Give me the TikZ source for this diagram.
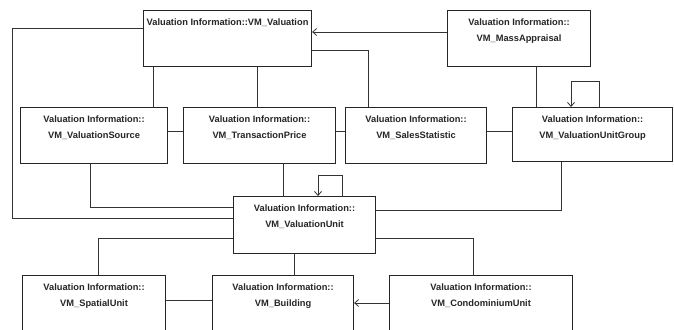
\documentclass[tikz,border=0pt]{standalone}
\usepackage{fontspec}
\setmainfont{Liberation Sans}
\usetikzlibrary{arrows.meta,calc}

% Draws a class box with its name set at the top: name, x, y, width, height, text
\newcommand\classbox[6]{%
  \node[clsbox, minimum width=#4pt, minimum height=#5pt] (#1) at (#2,#3) {};
  \node[clstext] (#1-t) at ([yshift=-9pt]#1.north) {#6};%
}

\begin{document}
\begin{tikzpicture}[
    x=1pt, y=-1pt,
    clsbox/.style={draw=black!85, line width=1.1pt, anchor=north west, inner sep=0pt, fill=white},
    clstext/.style={anchor=north, inner sep=0pt, align=center,
      font=\fontsize{9.3}{15.2}\selectfont\bfseries, text=black!85},
    link/.style={draw=black!80, line width=0.9pt},
    dep/.style={link, -{Straight Barb[length=4pt,width=7pt,line width=0.8pt]}},
  ]
  \useasboundingbox (0,0) rectangle (674,329);
  \clip (0,0) rectangle (674,329);

  % classes
  \classbox{val}{143}{10}{168}{56}{Valuation Information::VM\_Valuation}
  \classbox{mass}{447}{10}{143}{56}{Valuation Information::\\VM\_MassAppraisal}
  \classbox{src}{20}{107}{147}{56}{Valuation Information::\\VM\_ValuationSource}
  \classbox{tp}{183}{107}{152}{56}{Valuation Information::\\VM\_TransactionPrice}
  \classbox{ss}{345}{107}{141}{56}{Valuation Information::\\VM\_SalesStatistic}
  \classbox{vug}{512}{107}{160}{54}{Valuation Information::\\VM\_ValuationUnitGroup}
  \classbox{vu}{233}{196}{142}{57}{Valuation Information::\\VM\_ValuationUnit}
  \classbox{sp}{22}{275}{143}{70}{Valuation Information::\\VM\_SpatialUnit}
  \classbox{bld}{212}{275}{141}{70}{Valuation Information::\\VM\_Building}
  \classbox{cu}{389}{275}{183}{70}{Valuation Information::\\VM\_CondominiumUnit}

  % associations
  \draw[link] (val.west |- 0,28) -| (12,218) -- (vu.west |- 0,218);
  \draw[link] (val.south -| 153,0) -- (src.north -| 153,0);
  \draw[link] (val.south -| 257,0) -- (tp.north -| 257,0);
  \draw[dep]  (mass.west |- 0,32) -- (val.east |- 0,32);
  \draw[link] (val.east |- 0,50) -| (ss.north -| 368,0);
  \draw[link] (mass.south -| 536,0) -- (vug.north -| 536,0);
  \draw[dep]  (vug.north -| 599,0) |- (571,81) -- (vug.north -| 571,0);
  \draw[link] (src.east |- 0,131) -- (tp.west |- 0,131);
  \draw[link] (tp.east |- 0,131) -- (ss.west |- 0,131);
  \draw[link] (ss.east |- 0,131) -- (vug.west |- 0,131);
  \draw[link] (src.south -| 90,0) |- (vu.west |- 0,207);
  \draw[link] (tp.south -| 283,0) -- (vu.north -| 283,0);
  \draw[dep]  (vu.north -| 342,0) |- (318,175) -- (vu.north -| 318,0);
  \draw[link] (vug.south -| 561,0) |- (vu.east |- 0,210);
  \draw[link] (vu.west |- 0,238) -| (sp.north -| 98,0);
  \draw[link] (vu.south -| 294,0) -- (bld.north -| 294,0);
  \draw[link] (vu.east |- 0,238) -| (cu.north -| 473,0);
  \draw[link] (sp.east |- 0,300) -- (bld.west |- 0,300);
  \draw[dep]  (cu.west |- 0,303) -- (bld.east |- 0,303);
\end{tikzpicture}
\end{document}
